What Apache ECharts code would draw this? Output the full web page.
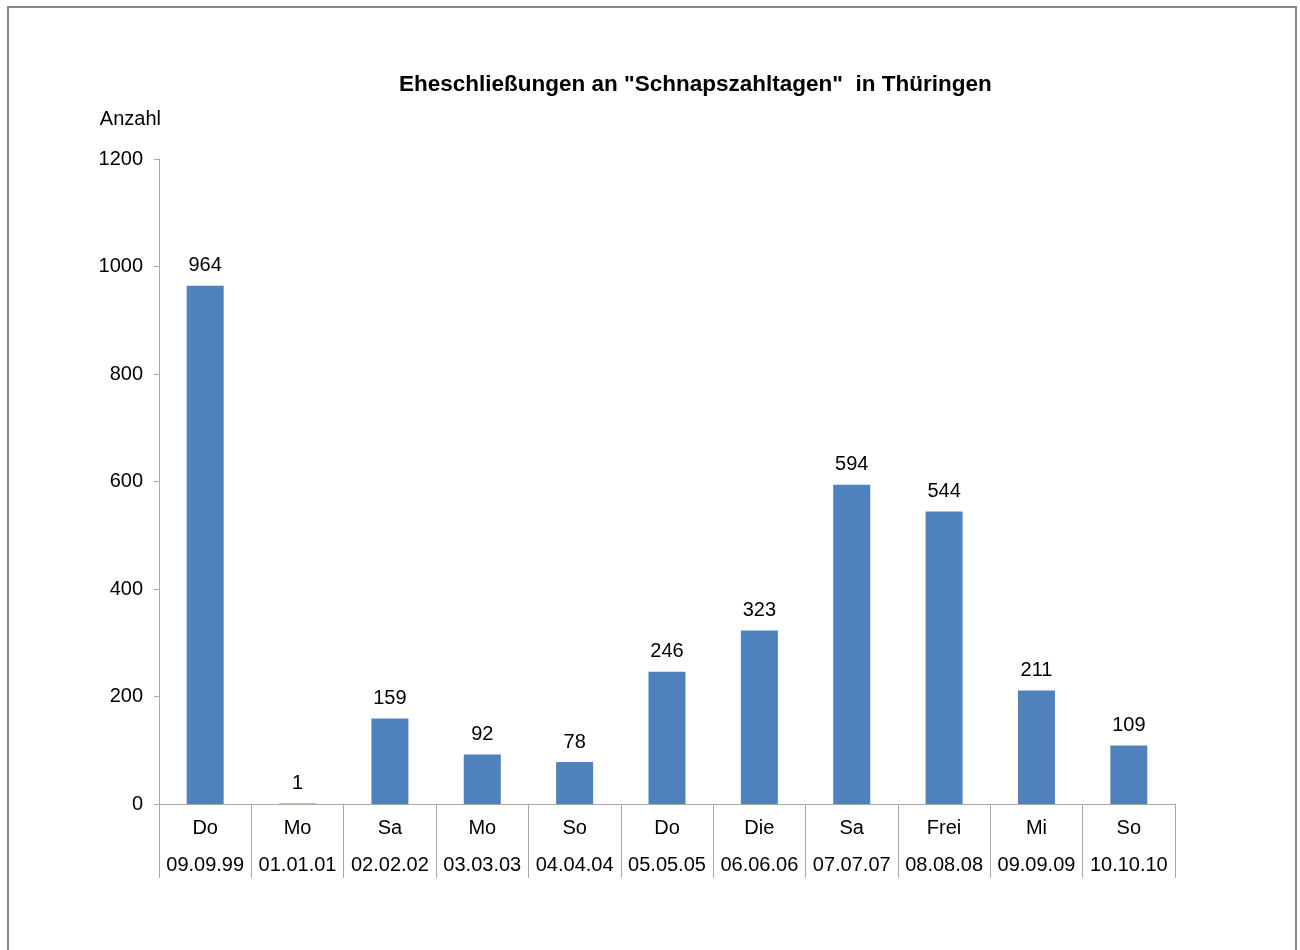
<!DOCTYPE html>
<html>
<head>
<meta charset="utf-8">
<script src="https://cdn.jsdelivr.net/npm/echarts@6/dist/echarts.min.js"></script>
<style>
html,body{margin:0;padding:0;background:#fff;}
#chart{width:1300px;height:950px;}
</style>
</head>
<body>
<div id="chart"></div>
<script>
const titleText = 'Eheschließungen an "Schnapszahltagen"  in Thüringen';
const yAxisName = 'Anzahl';
const weekdays = ['Do','Mo','Sa','Mo','So','Do','Die','Sa','Frei','Mi','So'];
const dates = ['09.09.99','01.01.01','02.02.02','03.03.03','04.04.04','05.05.05','06.06.06','07.07.07','08.08.08','09.09.09','10.10.10'];
const values = [964, 1, 159, 92, 78, 246, 323, 594, 544, 211, 109];
const yTicks = [0, 200, 400, 600, 800, 1000, 1200];

const categories = weekdays.map((d, i) => d + '\n' + dates[i]);
const font = 'Liberation Sans, Arial, sans-serif';

const chart = echarts.init(document.getElementById('chart'));
chart.setOption({
  animation: false,
  backgroundColor: '#fff',
  title: {
    text: titleText,
    left: 394,
    top: 68,
    textStyle: { fontFamily: font, fontSize: 22.5, fontWeight: 'bold', color: '#000' }
  },
  graphic: [{
    type: 'rect',
    shape: { x: 8, y: 7, width: 1288, height: 970 },
    style: { fill: 'none', stroke: '#888', lineWidth: 2 },
    silent: true
  }],
  grid: { left: 159, right: 125, top: 159, bottom: 146 },
  xAxis: {
    type: 'category',
    data: categories,
    boundaryGap: true,
    axisLine: { lineStyle: { color: '#aaa', width: 1 } },
    axisTick: { show: true, length: 74, alignWithLabel: false, lineStyle: { color: '#aaa' } },
    axisLabel: {
      interval: 0,
      margin: 6,
      fontFamily: font,
      fontSize: 20,
      color: '#000',
      lineHeight: 37
    }
  },
  yAxis: {
    type: 'value',
    min: yTicks[0],
    max: yTicks[yTicks.length - 1],
    interval: 200,
    name: yAxisName,
    nameLocation: 'end',
    nameGap: 30,
    nameTextStyle: { fontFamily: font, fontSize: 20, color: '#000', align: 'right', padding: [0, -2, 0, 0] },
    splitLine: { show: false },
    axisLine: { show: true, lineStyle: { color: '#aaa', width: 1 } },
    axisTick: { show: true, length: 5, lineStyle: { color: '#aaa' } },
    axisLabel: { margin: 16, fontFamily: font, fontSize: 20, color: '#000', formatter: v => String(v) }
  },
  series: [{
    type: 'bar',
    data: values,
    barWidth: 37,
    itemStyle: { color: '#4F81BD' },
    label: {
      show: true,
      position: 'top',
      distance: 10,
      fontFamily: font,
      fontSize: 20,
      color: '#000'
    }
  }]
});
</script>
</body>
</html>
